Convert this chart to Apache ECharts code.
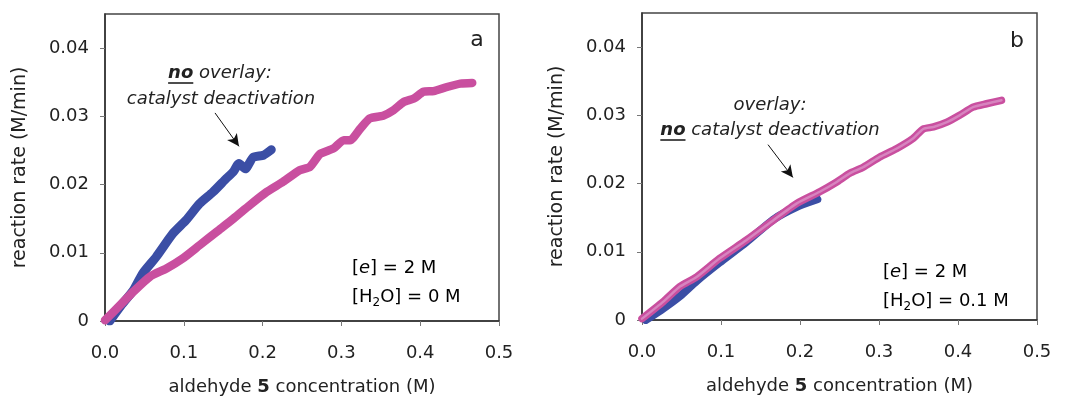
<!DOCTYPE html>
<html>
<head>
<meta charset="utf-8">
<script src="https://cdn.jsdelivr.net/npm/echarts@6/dist/echarts.min.js"></script>
<style>
    html, body {margin: 0; padding: 0; background: #fff;}
    #main {width: 1069px; height: 396px;}
</style>
</head>
<body>
<div id="main"></div>
<script>
    // panel a: [H2O] = 0 M
    var aBlueX = [0.006, 0.020, 0.036, 0.048, 0.065, 0.086, 0.103, 0.120, 0.137, 0.154, 0.163, 0.170, 0.178, 0.188, 0.201, 0.211];
    var aBlueY = [0.0000, 0.0022, 0.0045, 0.0070, 0.0094, 0.0128, 0.0148, 0.0172, 0.0189, 0.0209, 0.0219, 0.0231, 0.0223, 0.0240, 0.0243, 0.0251];
    var aPinkX = [0.000, 0.019, 0.036, 0.057, 0.078, 0.099, 0.120, 0.142, 0.163, 0.184, 0.205, 0.226, 0.247, 0.260, 0.273, 0.290, 0.303, 0.311, 0.324, 0.336, 0.353, 0.366, 0.379, 0.392, 0.404, 0.417, 0.434, 0.451, 0.466];
    var aPinkY = [0.0001, 0.0023, 0.0043, 0.0065, 0.0077, 0.0092, 0.0111, 0.0131, 0.0150, 0.0170, 0.0189, 0.0204, 0.0221, 0.0226, 0.0245, 0.0253, 0.0265, 0.0265, 0.0282, 0.0297, 0.0301, 0.0309, 0.0321, 0.0326, 0.0336, 0.0337, 0.0343, 0.0348, 0.0349];
    // panel b: [H2O] = 0.1 M
    var bBlueX = [0.005, 0.027, 0.048, 0.069, 0.098, 0.132, 0.166, 0.196, 0.222];
    var bBlueY = [0.0000, 0.0017, 0.0035, 0.0057, 0.0084, 0.0114, 0.0147, 0.0166, 0.0177];
    var bPinkX = [0.000, 0.027, 0.048, 0.069, 0.098, 0.132, 0.166, 0.196, 0.225, 0.246, 0.263, 0.280, 0.301, 0.322, 0.343, 0.356, 0.369, 0.386, 0.402, 0.419, 0.436, 0.455];
    var bPinkY = [0.0002, 0.0027, 0.0049, 0.0063, 0.0090, 0.0117, 0.0146, 0.0171, 0.0188, 0.0202, 0.0215, 0.0224, 0.0239, 0.0251, 0.0266, 0.0280, 0.0283, 0.0290, 0.0300, 0.0312, 0.0317, 0.0322];
    var yTicks = [0, 0.01, 0.02, 0.03, 0.04];

    var BLUE = '#3b4ea5', PINK = '#c94f9f', PINK_LIGHT = '#d784bf';
    var FONT = '"DejaVu Sans", Verdana, sans-serif';

    function zip(xs, ys) {
        return xs.map(function (x, i) { return [x, ys[i]]; });
    }

    var ctx = document.createElement('canvas').getContext('2d');
    function textWidth(t, font) {
        ctx.font = font;
        return ctx.measureText(t).width;
    }

    // one centred line of annotation text made of styled pieces
    function textLine(parts, cx, cy) {
        var total = 0;
        parts.forEach(function (p) { p.w = textWidth(p.t, p.font); total += p.w; });
        var x = cx - total / 2, out = [];
        parts.forEach(function (p) {
            out.push({type: 'text', x: x, y: cy, style: {text: p.t, font: p.font, fill: '#222', textAlign: 'left', textVerticalAlign: 'middle'}});
            if (p.u) {
                out.push({type: 'line', shape: {x1: x, y1: cy + 10, x2: x + p.w, y2: cy + 10}, style: {stroke: '#222', lineWidth: 1.6}});
            }
            x += p.w;
        });
        return out;
    }

    var IT = 'italic 18px ' + FONT, BI = 'italic bold 18px ' + FONT;

    function xAxis(idx) {
        return {
            type: 'value', gridIndex: idx, min: 0, max: 0.5, interval: 0.1,
            name: 'aldehyde {b|5} concentration (M)', nameLocation: 'middle', nameGap: 57,
            nameTextStyle: {fontSize: 18, color: '#222', fontFamily: FONT, rich: {b: {fontSize: 18, fontWeight: 'bold', color: '#222', fontFamily: FONT}}},
            axisLine: {show: true, lineStyle: {color: '#333', width: 1.5}},
            axisTick: {show: true, length: 5, lineStyle: {color: '#777'}},
            axisLabel: {fontSize: 18, color: '#222', fontFamily: FONT, margin: 23, formatter: function (v) { return v.toFixed(1); }},
            splitLine: {show: false}
        };
    }

    function yAxis(idx) {
        return {
            type: 'value', gridIndex: idx, min: 0, max: 0.045,
            name: 'reaction rate (M/min)', nameLocation: 'middle', nameGap: 75, nameRotate: 90,
            nameTextStyle: {fontSize: 19, color: '#222', fontFamily: FONT},
            axisLine: {show: true, lineStyle: {color: '#333', width: 1.5}},
            axisTick: {show: true, length: 5, lineStyle: {color: '#777'}, customValues: yTicks},
            axisLabel: {fontSize: 18, color: '#222', fontFamily: FONT, margin: 16, customValues: yTicks,
                formatter: function (v) { return v === 0 ? '0' : v.toFixed(2); }},
            splitLine: {show: false}
        };
    }

    function thick(name, idx, data, color, w) {
        return {
            name: name, type: 'line', xAxisIndex: idx, yAxisIndex: idx, data: data,
            showSymbol: false, smooth: 0.2, animation: false, silent: true,
            lineStyle: {color: color, width: w, cap: 'round', join: 'round'}
        };
    }

    function arrow(from, to) {
        return {
            silent: true, animation: false, symbol: ['none', 'arrow'], symbolSize: [9, 12],
            lineStyle: {color: '#111', width: 1, type: 'solid'}, label: {show: false},
            data: [[{coord: from}, {coord: to}]]
        };
    }

    var condRich = {
        n: {fontSize: 18, color: '#222', fontFamily: FONT, lineHeight: 29},
        i: {fontSize: 18, color: '#222', fontFamily: FONT, fontStyle: 'italic', lineHeight: 29},
        s: {fontSize: 12, color: '#222', fontFamily: FONT, lineHeight: 29, padding: [10, 0, 0, 0]}
    };

    var chart = echarts.init(document.getElementById('main'), null, {renderer: 'canvas'});

    var sA1 = thick('no water, run 1', 0, zip(aBlueX, aBlueY), BLUE, 9);
    sA1.markLine = arrow([0.1396, 0.0305], [0.170, 0.0256]);
    var sB1 = thick('0.1 M water, run 1', 1, zip(bBlueX, bBlueY), BLUE, 8);
    sB1.markLine = arrow([0.1595, 0.0257], [0.191, 0.0209]);

    chart.setOption({
        backgroundColor: '#fff',
        animation: false,
        grid: [
            {left: 105, top: 14, width: 394, height: 307, outerBoundsMode: 'none', show: true, borderColor: '#444', borderWidth: 1.5, backgroundColor: 'transparent'},
            {left: 642, top: 13, width: 395, height: 307, outerBoundsMode: 'none', show: true, borderColor: '#444', borderWidth: 1.5, backgroundColor: 'transparent'}
        ],
        xAxis: [xAxis(0), xAxis(1)],
        yAxis: [yAxis(0), yAxis(1)],
        series: [
            sA1,
            thick('no water, run 2', 0, zip(aPinkX, aPinkY), PINK, 8.5),
            sB1,
            thick('0.1 M water, run 2', 1, zip(bPinkX, bPinkY), PINK, 7.5),
            thick('0.1 M water, run 2 inner', 1, zip(bPinkX, bPinkY), PINK_LIGHT, 2.5)
        ],
        graphic: [
            {type: 'text', x: 477, y: 40, style: {text: 'a', font: '22px ' + FONT, fill: '#222', textAlign: 'center', textVerticalAlign: 'middle'}},
            {type: 'text', x: 1017, y: 41, style: {text: 'b', font: '22px ' + FONT, fill: '#222', textAlign: 'center', textVerticalAlign: 'middle'}},
            {type: 'text', x: 352, y: 254, style: {text: '{n|[}{i|e}{n|] = 2 M}\n{n|[H}{s|2}{n|O] = 0 M}', rich: condRich, textAlign: 'left'}},
            {type: 'text', x: 883, y: 258, style: {text: '{n|[}{i|e}{n|] = 2 M}\n{n|[H}{s|2}{n|O] = 0.1 M}', rich: condRich, textAlign: 'left'}}
        ]
            .concat(textLine([{t: 'no', font: BI, u: true}, {t: ' overlay:', font: IT}], 220, 73))
            .concat(textLine([{t: 'catalyst deactivation', font: IT}], 221, 99))
            .concat(textLine([{t: 'overlay:', font: IT}], 770, 105))
            .concat(textLine([{t: 'no', font: BI, u: true}, {t: ' catalyst deactivation', font: IT}], 770, 130))
    });
</script>
</body>
</html>
